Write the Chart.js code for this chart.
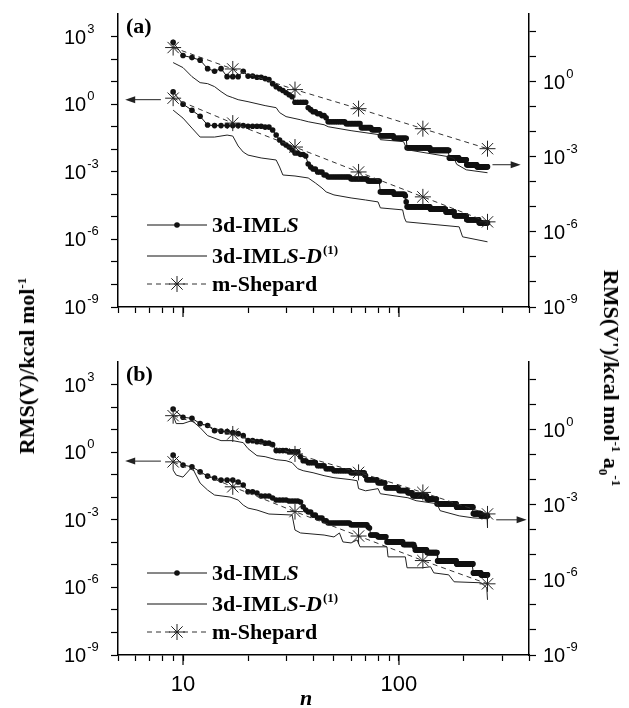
<!DOCTYPE html>
<html>
<head>
<meta charset="utf-8">
<script src="https://cdn.jsdelivr.net/npm/chart.js@4.4.1/dist/chart.umd.min.js"></script>
<style>
  html, body { margin: 0; padding: 0; background: #fff; }
  #page { position: relative; width: 629px; height: 708px; overflow: hidden; }
  canvas { position: absolute; left: 0; }
  #chartA { top: 0; }
  #chartB { top: 330px; }
  .ytitle {
    position: absolute;
    font: bold 22px "Liberation Serif", "Times New Roman", serif;
    line-height: 1;
    white-space: nowrap;
    color: #000;
  }
  .ytitle sup, .ytitle sub { font-size: 13px; line-height: 0; }
  #titleL { left: 27px; top: 366px; transform: translate(-50%, -50%) rotate(-90deg); }
  #titleR { left: 611px; top: 378px; transform: translate(-50%, -50%) rotate(90deg); }
</style>
</head>
<body>
<div id="page">
  <canvas id="chartA" width="629" height="330"></canvas>
  <canvas id="chartB" width="629" height="378"></canvas>
  <div class="ytitle" id="titleL">RMS(V)/kcal mol<sup>-1</sup></div>
  <div class="ytitle" id="titleR">RMS(V')/kcal mol<sup>-1</sup> a<sub>0</sub><sup>-1</sup></div>
</div>
<script>
// grid sizes n where m-Shepard was evaluated
const shepardN = [9, 17, 33, 65, 129, 257];
const lastN = 257;

// axis marks
const xMarks = [5, 6, 7, 8, 9, 10, 20, 30, 40, 50, 60, 70, 80, 90, 100, 200, 300, 400];
const xLabelled = [10, 100];
const leftExps = [3, 0, -3, -6, -9];
const rightExps = [0, -3, -6, -9];
const legendNames = ['3d-IMLS', '3d-IMLS-D(1)', 'm-Shepard'];

// ---- panel (a) ----
// upper curves -> right axis, RMS(V')
const aUpImlsN = [9,10,11,12,13,14,15,16,19,20,22,24,25,26,27,28,29,30,31,32,33,38,39,40,42,44,46,47,57,67,75,82,95,109,140,171,190,206,230];
const aUpImlsV = [37,11,9.1,7.2,3.3,2.6,3.3,1.58,2.6,1.66,1.5,1.32,1.2,0.83,0.63,0.52,0.44,0.36,0.30,0.25,0.15,0.091,0.076,0.063,0.052,0.044,0.036,0.025,0.021,0.0145,0.012,0.0069,0.0055,0.0023,0.0018,0.0009,0.00075,0.00048,0.0004];
const aUpDerivN = [9,10,11,12,13,14,15,16,17,18,20,24,27,28,30,35,38,45,47,60,81,82,105,109,150,170,180,185,205,257];
const aUpDerivV = [5.75,3.63,1.58,0.91,0.83,0.63,0.40,0.275,0.229,0.19,0.158,0.11,0.091,0.058,0.040,0.030,0.025,0.019,0.0158,0.011,0.0076,0.0048,0.004,0.0019,0.0012,0.001,0.00085,0.0005,0.0003,0.00023];
const aUpShepV = [22.9, 3.2, 0.48, 0.083, 0.0132, 0.0021];
// lower curves -> left axis, RMS(V)
const aLoImlsN = [9,10,11,12,13,14,20,24,26,27,28,29,30,31,32,33,35,37,38,39,40,42,45,47,60,72,82,95,107,108,109,140,165,181,206,235];
const aLoImlsV = [3.5,1.0,0.54,0.29,0.118,0.112,0.104,0.096,0.071,0.0425,0.0255,0.0188,0.0153,0.0125,0.0092,0.0068,0.0058,0.005,0.0022,0.00163,0.00133,0.00098,0.00072,0.00059,0.00048,0.00039,0.000128,0.0001,0.000085,0.000046,0.0000277,0.000022,0.0000166,0.0000111,0.0000074,0.0000055];
const aLoDerivN = [9,10,11,12,14,16,17,18,19,20,23,27,28,29,33,38,41,44,46,50,60,70,80,82,104,106,108,190,197,257];
const aLoDerivV = [0.543,0.24,0.0867,0.0347,0.0347,0.0425,0.0384,0.0139,0.0075,0.0055,0.0041,0.00333,0.00163,0.00072,0.00065,0.00053,0.00032,0.00019,0.000128,0.000094,0.000069,0.000056,0.000046,0.000025,0.0000204,0.000009,0.000006,0.0000036,0.0000013,0.00000078];
const aLoShepV = [1.84, 0.144, 0.0125, 0.00098, 7.7e-5, 6e-6];

// ---- panel (b) ----
const bUpImlsN = [9,10,11,12,13,14,15,16,17,18,19,20,22,24,26,27,31,35,36,38,42,46,50,60,70,71,80,87,100,110,116,135,150,185,221,240];
const bUpImlsV = [6.7,3.1,2.83,1.74,1.45,0.91,0.87,0.83,0.76,0.69,0.575,0.363,0.331,0.288,0.251,0.145,0.13,0.083,0.0575,0.0479,0.0363,0.0275,0.0229,0.019,0.0145,0.01,0.0076,0.0048,0.0037,0.003,0.0023,0.0017,0.0011,0.0008,0.00044,0.00036];
const bUpDerivN = [9,9.3,10,11,12,13,15,17,19,20,22,24,27,30,32,34,36,40,45,50,60,64,65,70,80,82,110,120,150,155,190,220,256,257];
const bUpDerivV = [3.63,1.74,1.74,2.29,1.2,0.575,0.363,0.363,0.302,0.174,0.091,0.083,0.063,0.0575,0.048,0.0275,0.0229,0.019,0.0145,0.012,0.01,0.0091,0.0044,0.0036,0.0044,0.00275,0.0019,0.00145,0.0011,0.00058,0.00036,0.0003,0.000275,0.00012];
const bUpShepV = [3.6, 0.67, 0.107, 0.0196, 0.0031, 0.00043];
const bLoImlsN = [9,10,11,12,13,14,15,18,19,20,22,23,26,27,31,35,36,37,38,40,42,45,47,60,72,73,74,80,88,105,118,119,135,151,185,221,240];
const bLoImlsV = [0.737,0.266,0.224,0.134,0.0867,0.0708,0.0577,0.0471,0.0347,0.0175,0.0153,0.0113,0.0092,0.0075,0.0068,0.0061,0.0038,0.0027,0.0022,0.0016,0.0012,0.0009,0.00072,0.0006,0.00048,0.00043,0.00021,0.000175,0.000104,0.00008,0.000063,0.000046,0.000035,0.000015,0.000011,0.0000044,0.0000036];
const bLoDerivN = [9,9.3,10,11,12,13,14,16.5,18,19,20,22,25,32,33,35,45,50,53,55,60,64,66,88,89,107,109,128,140,145,170,180,240,255,257];
const bLoDerivV = [0.16,0.096,0.078,0.217,0.0425,0.0208,0.0125,0.0102,0.0075,0.0045,0.0033,0.0027,0.0018,0.00163,0.00035,0.00026,0.00021,0.000173,0.00026,0.000104,0.000094,0.000128,0.000063,0.000063,0.0000226,0.0000226,0.0000074,0.0000074,0.0000082,0.0000044,0.0000036,0.00000177,0.0000016,0.00000096,0.00000028];
const bLoShepV = [0.37, 0.029, 0.0023, 0.00019, 1.55e-5, 1.44e-6];

const SANS = '"Liberation Sans", Arial, sans-serif';
const SERIF = '"Liberation Serif", "Times New Roman", serif';
const B = 'bold 22px ' + SERIF;
const BI = 'italic bold 22px ' + SERIF;
const SUP = 'bold 13px ' + SERIF;

// each IMLS level holds until the next listed n (one fit per integer n)
function holdSteps(ns, vs) {
    const pts = [];
    for (let i = 0; i < ns.length; i++) {
        const end = i + 1 < ns.length ? ns[i + 1] : lastN + 1;
        for (let n = ns[i]; n < end; n++) pts.push({ x: n, y: vs[i] });
    }
    return pts;
}

function pairs(ns, vs) {
    return ns.map((n, i) => ({ x: n, y: vs[i] }));
}

function imlsSet(ns, vs, axis) {
    return {
        data: holdSteps(ns, vs), yAxisID: axis,
        borderColor: '#111', borderWidth: 1,
        pointRadius: 2.8, pointBackgroundColor: '#111', pointBorderWidth: 0
    };
}

function derivSet(ns, vs, axis) {
    return {
        data: pairs(ns, vs), yAxisID: axis,
        borderColor: '#222', borderWidth: 1, pointRadius: 0
    };
}

function shepSet(vs, axis) {
    return {
        data: pairs(shepardN, vs), yAxisID: axis,
        borderColor: '#333', borderWidth: 1, borderDash: [5, 4],
        pointStyle: 'star', pointRadius: 8, pointBorderColor: '#222', pointBorderWidth: 1
    };
}

function powLabel(ctx, x, y, k) {
    ctx.font = '20px ' + SANS;
    ctx.textAlign = 'left';
    ctx.textBaseline = 'alphabetic';
    ctx.fillText('10', x, y + 7);
    const w = ctx.measureText('10').width;
    ctx.font = '13px ' + SANS;
    ctx.fillText(String(k), x + w + 1, y - 4);
}

function textRuns(ctx, x, y, parts) {
    ctx.textAlign = 'left';
    ctx.textBaseline = 'alphabetic';
    parts.forEach(p => {
        ctx.font = p.f;
        ctx.fillText(p.t, x, y + (p.dy || 0));
        x += ctx.measureText(p.t).width + (p.gap || 0);
    });
}

function drawStar(ctx, x, y, r) {
    const d = r * Math.SQRT1_2;
    ctx.beginPath();
    ctx.moveTo(x - r, y); ctx.lineTo(x + r, y);
    ctx.moveTo(x, y - r); ctx.lineTo(x, y + r);
    ctx.moveTo(x - d, y - d); ctx.lineTo(x + d, y + d);
    ctx.moveTo(x - d, y + d); ctx.lineTo(x + d, y - d);
    ctx.stroke();
}

function arrow(ctx, x1, y1, x2, y2) {
    const dir = Math.sign(x2 - x1);
    ctx.beginPath();
    ctx.moveTo(x1, y1); ctx.lineTo(x2 - dir * 6, y2);
    ctx.stroke();
    ctx.beginPath();
    ctx.moveTo(x2, y2);
    ctx.lineTo(x2 - dir * 10, y2 - 3.5);
    ctx.lineTo(x2 - dir * 10, y2 + 3.5);
    ctx.closePath();
    ctx.fill();
}

const extrasPlugin = {
    id: 'extras',
    afterDraw(chart, args, opts) {
        const ctx = chart.ctx;
        const { x, y, y2 } = chart.scales;
        const area = chart.chartArea;
        ctx.save();
        ctx.fillStyle = '#000';
        ctx.strokeStyle = '#000';

        // longer marks at the labelled decades
        ctx.lineWidth = 1.2;
        xLabelled.forEach(v => {
            const px = x.getPixelForValue(v);
            ctx.beginPath();
            ctx.moveTo(px, area.bottom);
            ctx.lineTo(px, area.bottom + 10);
            ctx.stroke();
        });

        leftExps.forEach(k => powLabel(ctx, 64, y.getPixelForValue(Math.pow(10, k)), k));
        rightExps.forEach(k => powLabel(ctx, 543, y2.getPixelForValue(Math.pow(10, k)), k));

        // panel tag
        textRuns(ctx, area.left + 8, area.top + 19, [{ t: opts.tag, f: B }]);

        // arrows telling which axis each group belongs to
        ctx.strokeStyle = '#222';
        ctx.fillStyle = '#222';
        ctx.lineWidth = 1;
        const la = opts.leftArrow, ra = opts.rightArrow;
        arrow(ctx, x.getPixelForValue(la[0]), y.getPixelForValue(la[2]),
            x.getPixelForValue(la[1]), y.getPixelForValue(la[2]));
        arrow(ctx, x.getPixelForValue(ra[0]), y2.getPixelForValue(ra[2]),
            x.getPixelForValue(ra[1]), y2.getPixelForValue(ra[2]));

        // legend
        const lx = area.left + 29;
        const rows = [area.top + 211, area.top + 242, area.top + 270];
        ctx.strokeStyle = '#111';
        ctx.fillStyle = '#111';
        ctx.lineWidth = 1;
        ctx.beginPath();
        ctx.moveTo(lx, rows[0]); ctx.lineTo(lx + 60, rows[0]);
        ctx.moveTo(lx, rows[1]); ctx.lineTo(lx + 60, rows[1]);
        ctx.stroke();
        ctx.beginPath();
        ctx.arc(lx + 30, rows[0], 2.8, 0, Math.PI * 2);
        ctx.fill();
        ctx.strokeStyle = '#333';
        ctx.setLineDash([5, 4]);
        ctx.beginPath();
        ctx.moveTo(lx, rows[2]); ctx.lineTo(lx + 62, rows[2]);
        ctx.stroke();
        ctx.setLineDash([]);
        ctx.strokeStyle = '#222';
        drawStar(ctx, lx + 30, rows[2], 8);

        ctx.fillStyle = '#000';
        const tx = lx + 65;
        textRuns(ctx, tx, rows[0] + 7, [{ t: '3d-IML', f: B }, { t: 'S', f: BI }]);
        textRuns(ctx, tx, rows[1] + 7, [{ t: '3d-IML', f: B }, { t: 'S', f: BI }, { t: '-', f: B },
            { t: 'D', f: BI, gap: 1 }, { t: '(1)', f: SUP, dy: -9 }]);
        textRuns(ctx, tx, rows[2] + 7, [{ t: legendNames[2], f: B }]);

        if (opts.xTitle) {
            textRuns(ctx, 300, chart.height - 3, [{ t: 'n', f: BI }]);
        }
        ctx.restore();
    }
};

function makePanel(id, p) {
    const datasets = [
        derivSet(p.upDerivN, p.upDerivV, 'y2'),
        derivSet(p.loDerivN, p.loDerivV, 'y'),
        shepSet(p.upShepV, 'y2'),
        shepSet(p.loShepV, 'y'),
        imlsSet(p.upImlsN, p.upImlsV, 'y2'),
        imlsSet(p.loImlsN, p.loImlsV, 'y')
    ];
    const axisGrid = { display: true, drawOnChartArea: false, drawTicks: true, color: '#000', tickColor: '#000', tickWidth: 1.2 };
    return new Chart(document.getElementById(id), {
        type: 'line',
        data: { datasets },
        plugins: [extrasPlugin],
        options: {
            responsive: false,
            animation: false,
            events: [],
            layout: { padding: { top: p.top, left: 0, right: 0, bottom: 0 }, autoPadding: false },
            plugins: {
                legend: { display: false },
                tooltip: { enabled: false },
                extras: { tag: p.tag, leftArrow: p.leftArrow, rightArrow: p.rightArrow, xTitle: p.xLabels }
            },
            scales: {
                x: {
                    type: 'logarithmic', min: 5, max: 400,
                    afterBuildTicks: s => { s.ticks = xMarks.map(v => ({ value: v })); },
                    afterFit: s => { s.height = p.xHeight; },
                    grid: Object.assign({ tickLength: 6 }, axisGrid),
                    border: { display: true, color: '#000', width: 1.5 },
                    ticks: {
                        display: p.xLabels, autoSkip: false, maxRotation: 0, minRotation: 0,
                        padding: 11, color: '#000', font: { family: SANS, size: 22 },
                        callback: v => xLabelled.includes(v) ? String(v) : ''
                    }
                },
                y: {
                    type: 'logarithmic', position: 'left', min: 1e-9, max: 1e4,
                    afterBuildTicks: s => {
                        const t = [];
                        for (let k = -9; k <= 3; k++) t.push({ value: Math.pow(10, k) });
                        s.ticks = t;
                    },
                    afterFit: s => { s.width = 118; },
                    grid: Object.assign({ tickLength: 7 }, axisGrid),
                    border: { display: true, color: '#000', width: 1.5 },
                    ticks: { display: false }
                },
                y2: {
                    type: 'logarithmic', position: 'right', min: 1e-9, max: Math.pow(10, 2.7),
                    afterBuildTicks: s => {
                        const t = [];
                        for (let k = -9; k <= 2; k++) t.push({ value: Math.pow(10, k) });
                        s.ticks = t;
                    },
                    afterFit: s => { s.width = 100; },
                    grid: Object.assign({ tickLength: 7 }, axisGrid),
                    border: { display: true, color: '#000', width: 1.5 },
                    ticks: { display: false }
                }
            }
        }
    });
}

makePanel('chartA', {
    tag: '(a)', top: 14, xHeight: 23, xLabels: false,
    upImlsN: aUpImlsN, upImlsV: aUpImlsV, upDerivN: aUpDerivN, upDerivV: aUpDerivV, upShepV: aUpShepV,
    loImlsN: aLoImlsN, loImlsV: aLoImlsV, loDerivN: aLoDerivN, loDerivV: aLoDerivV, loShepV: aLoShepV,
    leftArrow: [7.9, 5.4, 1.58], rightArrow: [271, 366, 4.8e-4]
});

makePanel('chartB', {
    tag: '(b)', top: 32, xHeight: 53, xLabels: true,
    upImlsN: bUpImlsN, upImlsV: bUpImlsV, upDerivN: bUpDerivN, upDerivV: bUpDerivV, upShepV: bUpShepV,
    loImlsN: bLoImlsN, loImlsV: bLoImlsV, loDerivN: bLoDerivN, loDerivV: bLoDerivV, loShepV: bLoShepV,
    leftArrow: [7.9, 5.4, 0.4], rightArrow: [282, 390, 2.5e-4]
});
</script>
</body>
</html>
